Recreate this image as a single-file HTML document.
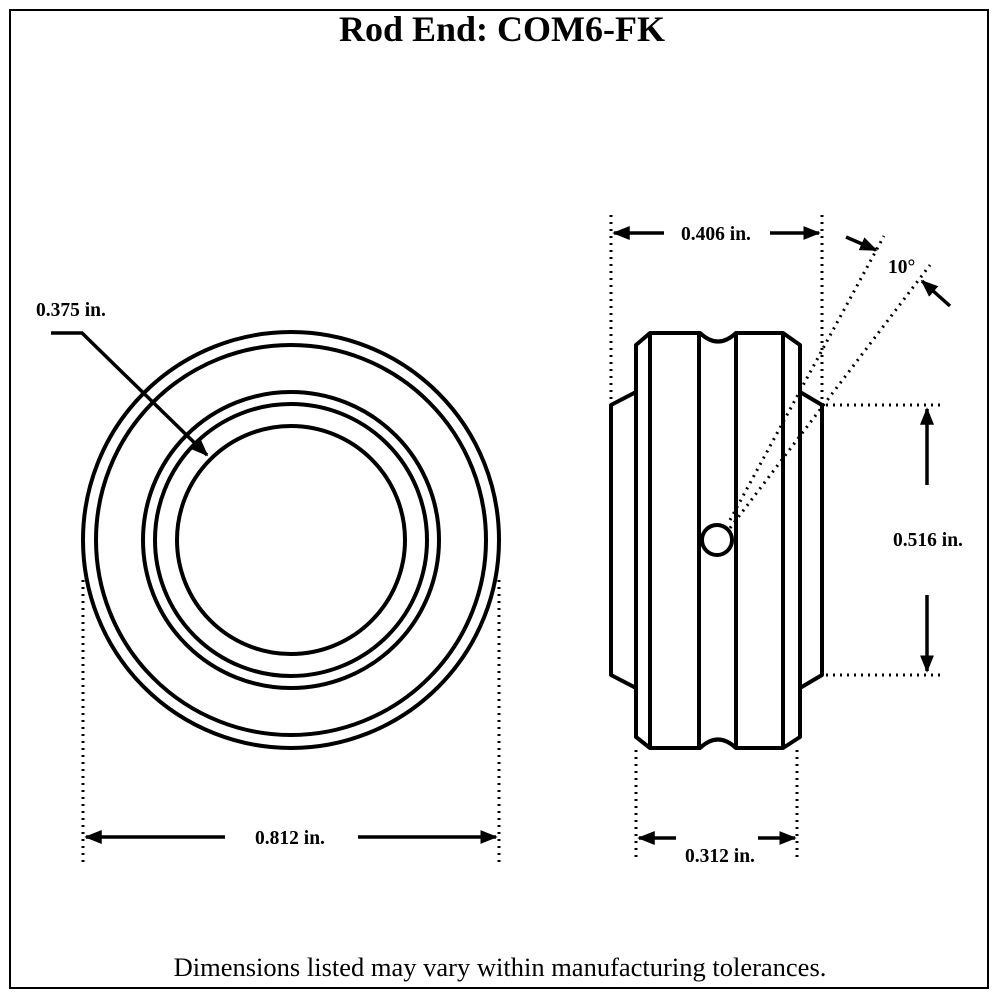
<!DOCTYPE html>
<html><head><meta charset="utf-8"><style>
html,body{margin:0;padding:0;background:#fff}
svg{display:block}
text{font-family:"Liberation Serif",serif;fill:#000}
.lb{font-size:19.5px;font-weight:bold}
</style></head><body>
<svg width="1000" height="1000" viewBox="0 0 1000 1000" xmlns="http://www.w3.org/2000/svg">
<defs>
<marker id="ah" viewBox="0 0 10 10" refX="9" refY="5" markerWidth="5" markerHeight="5" orient="auto-start-reverse" markerUnits="strokeWidth">
<path d="M0,1 L10,5 L0,9 z" fill="#000"/></marker>
</defs>
<rect x="10" y="10" width="978" height="978" fill="none" stroke="#000" stroke-width="2"/>
<text x="502" y="41" font-size="36" font-weight="bold" text-anchor="middle">Rod End: COM6-FK</text>
<text x="500" y="976" font-size="26.5" text-anchor="middle">Dimensions listed may vary within manufacturing tolerances.</text>

<!-- front view -->
<g fill="none" stroke="#000" stroke-width="4">
<circle cx="291" cy="540" r="208"/>
<circle cx="291" cy="540" r="195"/>
<circle cx="291" cy="540" r="148"/>
<circle cx="291" cy="540" r="136"/>
<circle cx="291" cy="540" r="114"/>
</g>
<text x="36" y="316" class="lb">0.375 in.</text>
<polyline points="51,333 82,333 207,455" fill="none" stroke="#000" stroke-width="3.5" marker-end="url(#ah)"/>
<g stroke="#000" stroke-width="3" stroke-dasharray="2,5" fill="none">
<line x1="83" y1="580" x2="83" y2="865"/>
<line x1="499" y1="580" x2="499" y2="865"/>
</g>
<line x1="86" y1="837" x2="225" y2="837" stroke="#000" stroke-width="3.5" marker-start="url(#ah)"/>
<line x1="358" y1="837" x2="496" y2="837" stroke="#000" stroke-width="3.5" marker-end="url(#ah)"/>
<text x="290" y="844" class="lb" text-anchor="middle">0.812 in.</text>

<!-- side view -->
<g fill="none" stroke="#000" stroke-width="4" stroke-linejoin="round">
<polyline points="636,392 611,405 611,675 636,688"/>
<polyline points="800,392 822,405 822,675 800,688"/>
<path d="M636,345 L650,333 L700,333 Q718,350 736,333 L783,333 L800,345 L800,737 L783,748 L736,748 Q718,731 700,748 L650,748 L636,737 Z"/>
<line x1="650" y1="333" x2="650" y2="748"/>
<line x1="699" y1="333" x2="699" y2="748"/>
<line x1="736" y1="333" x2="736" y2="748"/>
<line x1="783" y1="333" x2="783" y2="748"/>
<circle cx="717" cy="540" r="15" fill="#fff"/>
</g>
<g stroke="#000" stroke-width="3" stroke-dasharray="2,5" fill="none">
<line x1="611" y1="215" x2="611" y2="400"/>
<line x1="822" y1="215" x2="822" y2="400"/>
<line x1="636" y1="750" x2="636" y2="858"/>
<line x1="797" y1="750" x2="797" y2="858"/>
<line x1="826" y1="405" x2="945" y2="405"/>
<line x1="826" y1="675" x2="945" y2="675"/>
<line x1="730" y1="520" x2="884" y2="236"/>
<line x1="730" y1="528" x2="930" y2="265"/>
</g>
<line x1="664" y1="233" x2="614" y2="233" stroke="#000" stroke-width="3.5" marker-end="url(#ah)"/>
<line x1="770" y1="233" x2="819" y2="233" stroke="#000" stroke-width="3.5" marker-end="url(#ah)"/>
<text x="716" y="240" class="lb" text-anchor="middle">0.406 in.</text>
<line x1="846" y1="237" x2="876" y2="250" stroke="#000" stroke-width="3.5" marker-end="url(#ah)"/>
<line x1="950" y1="306" x2="922" y2="281" stroke="#000" stroke-width="3.5" marker-end="url(#ah)"/>
<text x="888" y="273" class="lb">10°</text>
<line x1="927" y1="485" x2="927" y2="409" stroke="#000" stroke-width="3.5" marker-end="url(#ah)"/>
<line x1="927" y1="595" x2="927" y2="671" stroke="#000" stroke-width="3.5" marker-end="url(#ah)"/>
<text x="928" y="546" class="lb" text-anchor="middle">0.516 in.</text>
<line x1="676" y1="838" x2="639" y2="838" stroke="#000" stroke-width="3.5" marker-end="url(#ah)"/>
<line x1="758" y1="838" x2="795" y2="838" stroke="#000" stroke-width="3.5" marker-end="url(#ah)"/>
<text x="720" y="862" class="lb" text-anchor="middle">0.312 in.</text>
</svg>
</body></html>
